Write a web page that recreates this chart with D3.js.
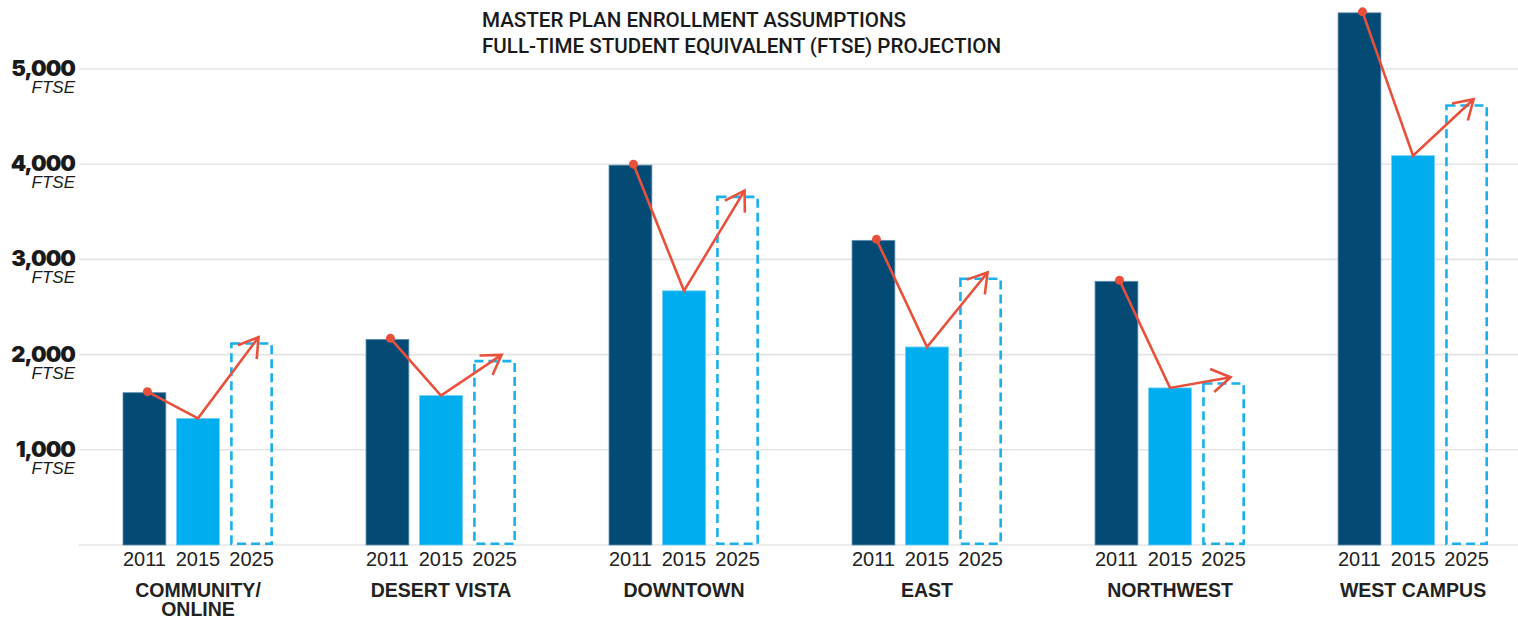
<!DOCTYPE html>
<html>
<head>
<meta charset="utf-8">
<script src="https://cdn.jsdelivr.net/npm/d3@7"></script>
<style>
  html, body { margin: 0; padding: 0; background: #fff; }
  svg { display: block; }
</style>
</head>
<body>
<svg id="chart" width="1518" height="620"></svg>
<script>
// Enrollment (FTSE) by campus: 2011 actual, 2015 actual, 2025 projection
const campuses = ["COMMUNITY/\nONLINE", "DESERT VISTA", "DOWNTOWN", "EAST", "NORTHWEST", "WEST CAMPUS"];
const years = ["2011", "2015", "2025"];
const ftse2011 = [1600, 2160, 3990, 3200, 2770, 5590];
const ftse2015 = [1330, 1570, 2670, 2080, 1650, 4090];
const ftse2025 = [2130, 1945, 3670, 2810, 1710, 4630];
const yTicks = [1000, 2000, 3000, 4000, 5000];
const titleLines = ["MASTER PLAN ENROLLMENT ASSUMPTIONS", "FULL-TIME STUDENT EQUIVALENT (FTSE) PROJECTION"];

const svg = d3.select("#chart");
const W = 1518;

const navy = "#034b75";
const sky = "#00aeef";
const red = "#e9503c";
const grid = "#e4e4e4";

const x = d3.scaleBand().domain(campuses).range([123, 1488]).paddingInner(0.383).paddingOuter(0);
const xYear = d3.scaleBand().domain(years).range([0, x.bandwidth()]).paddingInner(0.2);
const y = d3.scaleLinear().domain([0, 5000]).range([545, 69]);

// Gridlines (including the zero baseline)
svg.append("g").selectAll("line")
  .data([0].concat(yTicks))
  .join("line")
  .attr("x1", 79).attr("x2", W)
  .attr("y1", d => y(d)).attr("y2", d => y(d))
  .attr("stroke", grid).attr("stroke-width", 1.6);

// Y axis labels: value + "FTSE"
const fmt = d3.format(",");
const yl = svg.append("g").attr("text-anchor", "end");
yl.selectAll("text.val")
  .data(yTicks)
  .join("text")
  .attr("class", "val")
  .attr("x", 75).attr("y", d => y(d) + 7)
  .attr("font-family", "Inter, 'Liberation Sans', Arial, sans-serif")
  .attr("font-weight", 900)
  .attr("font-size", 22)
  .attr("letter-spacing", -1)
  .attr("fill", "#1a1a1a")
  .text(d => fmt(d));
yl.selectAll("text.unit")
  .data(yTicks)
  .join("text")
  .attr("class", "unit")
  .attr("x", 75).attr("y", d => y(d) + 24)
  .attr("font-family", "'Liberation Sans', Arial, sans-serif")
  .attr("font-style", "italic")
  .attr("font-size", 17)
  .attr("fill", "#1a1a1a")
  .text("FTSE");

// Title
svg.append("g").selectAll("text")
  .data(titleLines)
  .join("text")
  .attr("x", 482).attr("y", (d, i) => 27 + i * 25.5)
  .attr("font-family", "Roboto, 'Liberation Sans', Arial, sans-serif")
  .attr("font-weight", 500)
  .attr("font-size", 20.6)
  .attr("fill", "#1a1a1a")
  .text(d => d);

// Campus groups
const groups = svg.append("g").selectAll("g.campus")
  .data(campuses.map((c, i) => ({ campus: c, i })))
  .join("g")
  .attr("class", "campus")
  .attr("transform", d => `translate(${x(d.campus)},0)`);

// 2011 bars
groups.append("rect")
  .attr("x", xYear("2011"))
  .attr("width", xYear.bandwidth())
  .attr("y", d => y(ftse2011[d.i]))
  .attr("height", d => y(0) - y(ftse2011[d.i]))
  .attr("fill", navy)
  .attr("stroke", "#5f8fb0").attr("stroke-width", 0.8);

// 2015 bars
groups.append("rect")
  .attr("x", xYear("2015"))
  .attr("width", xYear.bandwidth())
  .attr("y", d => y(ftse2015[d.i]))
  .attr("height", d => y(0) - y(ftse2015[d.i]))
  .attr("fill", sky)
  .attr("stroke", "#6fd0f5").attr("stroke-width", 0.8);

// 2025 projection: dashed outline
const sw = 2.6;
groups.append("rect")
  .attr("x", xYear("2025") + sw / 2)
  .attr("width", xYear.bandwidth() - sw)
  .attr("y", d => y(ftse2025[d.i]) + sw / 2)
  .attr("height", d => y(0) - y(ftse2025[d.i]) - sw)
  .attr("fill", "none")
  .attr("stroke", "#1ab0ec")
  .attr("stroke-width", sw)
  .attr("stroke-dasharray", "9,5");

// Trend arrows
const bw = xYear.bandwidth();
const line = d3.line();
groups.each(function(d) {
  const g = d3.select(this);
  const p0 = [xYear("2011") + bw / 2 + 3, y(ftse2011[d.i]) - 1];
  const p1 = [xYear("2015") + bw / 2, y(ftse2015[d.i])];
  const p2 = [xYear("2025") + bw / 2 + 7, y(ftse2025[d.i]) - 5];
  g.append("path")
    .attr("d", line([p0, p1, p2]))
    .attr("fill", "none")
    .attr("stroke", red)
    .attr("stroke-width", 2.6)
    .attr("stroke-linejoin", "miter");
  // open arrowhead
  const ang = Math.atan2(p1[1] - p2[1], p1[0] - p2[0]);
  const L = 22, spread = 32 * Math.PI / 180;
  const a1 = [p2[0] + L * Math.cos(ang + spread), p2[1] + L * Math.sin(ang + spread)];
  const a2 = [p2[0] + L * Math.cos(ang - spread), p2[1] + L * Math.sin(ang - spread)];
  g.append("path")
    .attr("d", line([a1, p2, a2]))
    .attr("fill", "none")
    .attr("stroke", red)
    .attr("stroke-width", 2.6)
    .attr("stroke-linejoin", "miter");
  g.append("circle")
    .attr("cx", p0[0]).attr("cy", p0[1]).attr("r", 4.5)
    .attr("fill", red);
});

// Year labels
groups.selectAll("text.year")
  .data(years)
  .join("text")
  .attr("class", "year")
  .attr("x", yr => xYear(yr) + bw / 2)
  .attr("y", 566)
  .attr("text-anchor", "middle")
  .attr("font-family", "'Liberation Sans', Arial, sans-serif")
  .attr("font-size", 20)
  .attr("fill", "#222")
  .text(yr => yr);

// Campus names
groups.append("text")
  .attr("text-anchor", "middle")
  .attr("font-family", "'Liberation Sans', Arial, sans-serif")
  .attr("font-weight", 700)
  .attr("font-size", 19.5)
  .attr("fill", "#222")
  .selectAll("tspan")
  .data(d => d.campus.split("\n"))
  .join("tspan")
  .attr("x", x.bandwidth() / 2)
  .attr("y", (t, i) => 597 + i * 19)
  .text(t => t);
</script>
</body>
</html>
